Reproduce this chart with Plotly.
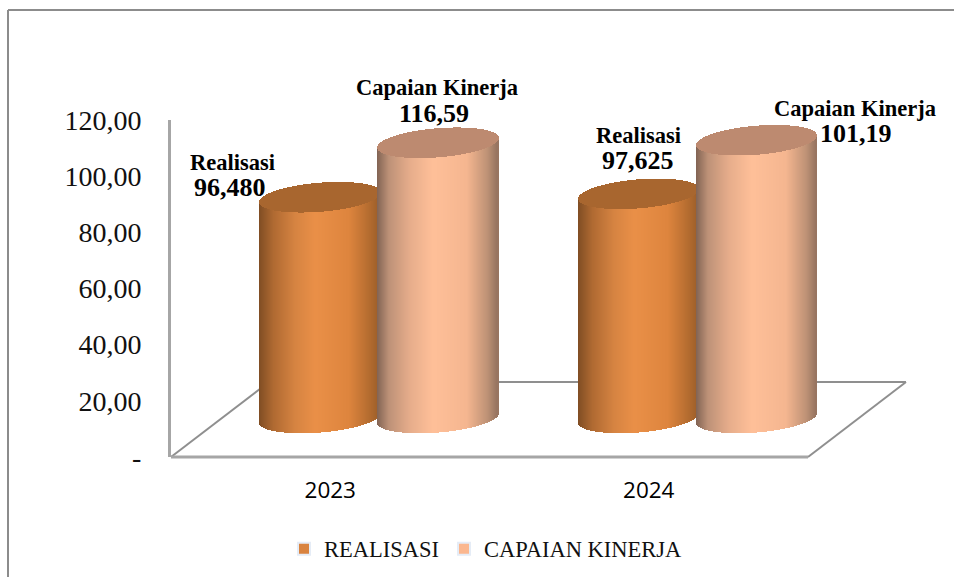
import numpy as np
import plotly.graph_objects as go

# ---- data ----
years = ["2023", "2024"]
series_names = ["REALISASI", "CAPAIAN KINERJA"]
realisasi_labels = ["96,480", "97,625"]
capaian_labels = ["116,59", "101,19"]
# cylinder tops and floor as read against the drawn value axis
realisasi_top = [92.5, 93.7]
capaian_top = [111.9, 112.8]
floor_value = 13.9
y_ticks = [0, 20, 40, 60, 80, 100, 120]
y_tick_text = ["-", "20,00", "40,00", "60,00", "80,00", "100,00", "120,00"]

# ---- layout constants ----
W, H = 954, 577
L, R_, T, B = 171, 906, 120, 457   # plot area includes the depth of the 3-D floor
FRONT_R = 808                      # right end of the front floor edge
PX_X = (FRONT_R - L) / 2.0         # px per category
PX_Y = (B - T) / 120.0             # px per value unit
SERIF = "Liberation Serif"


def hexramp(stops, t):
    pos = [s[0] for s in stops]
    chans = [np.interp(t, pos, [s[1][i] for s in stops]) for i in range(3)]
    return ["#%02x%02x%02x" % (int(a), int(b), int(c)) for a, b, c in zip(*chans)]


RAMP_R = [(0, (128, 78, 36)), (.12, (176, 106, 50)), (.3, (214, 132, 66)), (.47, (234, 144, 72)),
          (.75, (222, 133, 62)), (.92, (180, 108, 48)), (1, (156, 94, 42))]
RAMP_C = [(0, (130, 100, 84)), (.1, (190, 146, 120)), (.28, (232, 174, 140)), (.47, (255, 192, 153)),
          (.75, (245, 182, 144)), (.92, (190, 146, 118)), (1, (150, 116, 96))]
CAP_R, CAP_C = "#a8662f", "#bd8a70"
LEG_R, LEG_C = "#d9833f", "#fbb78f"

RX = 60 / PX_X          # half width of a cylinder
RY = 14.5 / PX_Y        # half height of the ellipse
TILT = 0.08 * PX_X / PX_Y  # ellipse tilt in data units per x unit (right side higher)
STEP = 1.0 / PX_X
OFF_R, OFF_C = -10 / PX_X, 108 / PX_X


def cylinder(center, top, ramp, cap):
    xs = center + np.arange(-RX + STEP / 2, RX, STEP)
    d = (xs - center) / RX
    sweep = RY * np.sqrt(np.clip(1 - d ** 2, 0, 1))
    tilt = TILT * (xs - center)
    low_base = floor_value + tilt - sweep
    mid_top = top + tilt
    body = go.Bar(x=xs, y=mid_top - low_base, base=low_base, width=STEP * 1.6,
                  marker=dict(color=hexramp(ramp, (d + 1) / 2), line_width=0),
                  showlegend=False, hoverinfo="skip")
    cap_tr = go.Bar(x=xs, y=2 * sweep, base=mid_top - sweep, width=STEP * 1.6,
                    marker=dict(color=cap, line_width=0), showlegend=False, hoverinfo="skip")
    return [body, cap_tr]


fig = go.Figure()
for i in range(len(years)):
    for tr in cylinder(i + OFF_R, realisasi_top[i], RAMP_R, CAP_R):
        fig.add_trace(tr)
    for tr in cylinder(i + OFF_C, capaian_top[i], RAMP_C, CAP_C):
        fig.add_trace(tr)

fig.add_trace(go.Bar(x=[None], y=[None], name=series_names[0], marker_color=LEG_R))
fig.add_trace(go.Bar(x=[None], y=[None], name=series_names[1], marker_color=LEG_C))

pw, ph = R_ - L, B - T
fx = lambda px: (px - L) / pw
fy = lambda py: (B - py) / ph

# floor of the 3-D box and the outer frame
grey = "#8f8f8f"
floor = [(171, 457, 269, 382), (269, 382, 906, 382), (808, 457, 906, 382)]
shapes = [dict(type="line", xref="paper", yref="paper", x0=fx(a), y0=fy(b), x1=fx(c), y1=fy(d),
               line=dict(color=grey, width=2), layer="below") for a, b, c, d in floor]
shapes += [
    dict(type="line", xref="paper", yref="paper", x0=fx(L), x1=fx(FRONT_R), y0=0, y1=0,
         line=dict(color="#a6a6a6", width=3), layer="below"),
    dict(type="line", xref="paper", yref="paper", x0=fx(8), x1=fx(8), y0=fy(10), y1=fy(577),
         line=dict(color="#8c8c8c", width=2)),
    dict(type="line", xref="paper", yref="paper", x0=fx(8), x1=fx(954), y0=fy(10), y1=fy(10),
         line=dict(color="#8c8c8c", width=2)),
]

# data labels: (text, centre px x, centre px y, font size)
label_items = [
    ("Realisasi", 232, 162, 22.5), (realisasi_labels[0], 230, 187, 26),
    ("Capaian Kinerja", 437, 87, 22.5), (capaian_labels[0], 434, 113, 26),
    ("Realisasi", 638, 135, 22.5), (realisasi_labels[1], 638, 160, 26),
    ("Capaian Kinerja", 855, 108, 22.5), (capaian_labels[1], 856, 133, 26),
]
annotations = [dict(text=t, x=fx(px), y=fy(py), xref="paper", yref="paper", showarrow=False,
                    xanchor="center", yanchor="middle",
                    font=dict(family=SERIF, size=s, color="#000000", weight="bold"))
               for t, px, py, s in label_items]

fig.update_layout(
    width=W, height=H, autosize=False,
    margin=dict(l=L, r=W - R_, t=T, b=H - B, pad=0, autoexpand=False),
    paper_bgcolor="white", plot_bgcolor="white",
    barmode="overlay", bargap=0,
    shapes=shapes, annotations=annotations,
    xaxis=dict(range=[-0.5, -0.5 + (R_ - L) / PX_X], tickmode="array", tickvals=[0, 1], ticktext=years,
               showgrid=False, zeroline=False, showline=False,
               ticks="", ticklabelstandoff=17,
               tickfont=dict(family="Open Sans", size=22.5, color="black")),
    yaxis=dict(range=[0, 120], tickmode="array", tickvals=y_ticks, ticktext=y_tick_text,
               showgrid=False, zeroline=False, showline=True, linecolor="#a6a6a6", linewidth=3,
               ticks="", ticklabelstandoff=21,
               tickfont=dict(family=SERIF, size=28, color="#111111")),
    legend=dict(orientation="h", xref="paper", yref="paper",
                x=fx(284), y=fy(549), xanchor="left", yanchor="middle",
                bgcolor="rgba(0,0,0,0)", itemclick=False, itemdoubleclick=False,
                font=dict(family=SERIF, size=22.5, color="#111111"),
                traceorder="normal", itemsizing="constant"),
)

fig.write_html("out.html", config=dict(displayModeBar=False),
               post_script="document.body.style.margin='0';document.body.style.overflow='hidden';")
